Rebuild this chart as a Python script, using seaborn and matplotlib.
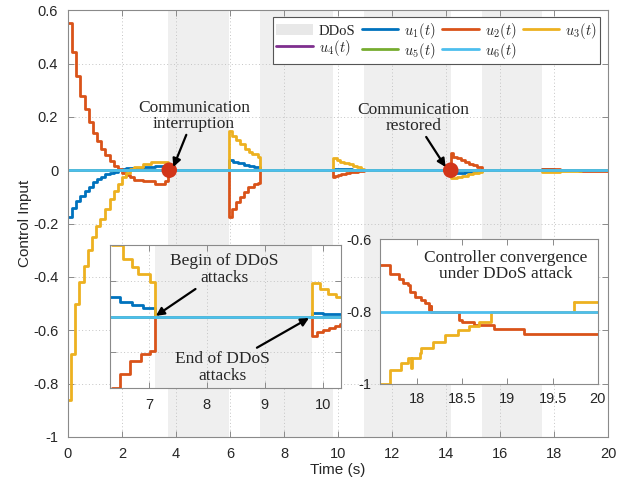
import matplotlib
matplotlib.use("Agg")
import matplotlib.pyplot as plt
import seaborn as sns
from matplotlib.patches import Patch
from matplotlib.lines import Line2D

sns.set_style("ticks")
plt.rcParams["font.family"] = ["Liberation Sans", "DejaVu Sans"]
plt.rcParams["mathtext.fontset"] = "cm"
plt.rcParams["axes.unicode_minus"] = False

# DDoS attack windows (s)
ddos_start = [3.72, 7.10, 10.95, 15.32]
ddos_end = [5.95, 9.81, 14.17, 17.55]

# u1(t): step instants and held values
u1_time = [0, 0.16, 0.31, 0.46, 0.62, 0.77, 0.92, 1.08, 1.23, 1.38, 1.54, 1.69, 1.85, 2.0, 2.15, 2.46, 2.77, 3.23, 3.72,
           5.95, 6.1, 6.3, 6.5, 6.7, 6.9, 7.10,
           9.81, 10.0, 10.2, 10.5, 10.8, 10.95,
           14.17, 14.4, 14.7, 15.0, 15.32,
           17.55, 18.0, 18.6, 19.2, 20.0]
u1_vals = [-0.177, -0.14, -0.115, -0.096, -0.077, -0.062, -0.046, -0.034, -0.024, -0.015, -0.009, -0.005, 0.0, 0.004, 0.007, 0.010, 0.012, 0.016, 0.0,
           0.037, 0.032, 0.027, 0.021, 0.016, 0.012, 0.0,
           0.005, 0.004, 0.003, 0.002, 0.001, 0.0,
           -0.012, -0.009, -0.006, -0.003, 0.0,
           0.003, 0.002, 0.001, 0.0, 0.0]

# u2(t)
u2_time = [0, 0.16, 0.31, 0.46, 0.62, 0.77, 0.92, 1.08, 1.23, 1.38, 1.54, 1.69, 1.85, 2.0, 2.15, 2.31, 2.46, 2.77, 3.23, 3.6, 3.72,
           5.95, 6.08, 6.22, 6.36, 6.5, 6.68, 6.87, 7.02, 7.10,
           9.81, 9.9, 10.0, 10.1, 10.2, 10.3, 10.45, 10.6, 10.75, 10.9, 10.95,
           14.17, 14.27, 14.4, 14.55, 14.7, 14.85, 15.0, 15.15, 15.32,
           17.55, 17.9, 18.2, 18.5, 18.9, 19.2, 20.0]
u2_vals = [0.552, 0.442, 0.353, 0.278, 0.228, 0.181, 0.141, 0.110, 0.079, 0.056, 0.035, 0.016, 0.004, -0.009, -0.017, -0.027, -0.036, -0.042, -0.052, -0.040, 0.0,
           -0.177, -0.146, -0.118, -0.100, -0.080, -0.0615, -0.052, -0.0475, 0.0,
           -0.027, -0.022, -0.019, -0.016, -0.013, -0.011, -0.008, -0.006, -0.004, -0.002, 0.0,
           0.063, 0.050, 0.044, 0.038, 0.031, 0.025, 0.019, 0.013, 0.0,
           0.006, 0.004, 0.002, 0.0, -0.002, -0.004, -0.004]

# u3(t)
u3_time = [0, 0.12, 0.27, 0.42, 0.58, 0.73, 0.88, 1.04, 1.2, 1.38, 1.54, 1.69, 1.85, 2.0, 2.15, 2.31, 2.46, 2.77, 3.08, 3.38, 3.6, 3.72,
           5.95, 6.08, 6.22, 6.36, 6.55, 6.7, 6.82, 7.02, 7.10,
           9.81, 9.95, 10.08, 10.22, 10.4, 10.55, 10.7, 10.85, 10.95,
           14.17, 14.4, 14.6, 14.8, 15.0, 15.2, 15.32,
           17.55, 17.9, 18.2, 18.5, 19.0, 20.0]
u3_vals = [-0.86, -0.69, -0.50, -0.42, -0.36, -0.30, -0.25, -0.21, -0.183, -0.146, -0.108, -0.077, -0.052, -0.027, -0.009, 0.004, 0.012, 0.022, 0.029, 0.032, 0.029, 0.0,
           0.147, 0.128, 0.113, 0.100, 0.081, 0.069, 0.060, 0.048, 0.0,
           0.047, 0.039, 0.032, 0.028, 0.022, 0.017, 0.011, 0.006, 0.0,
           -0.031, -0.026, -0.021, -0.016, -0.012, -0.008, 0.0,
           -0.008, -0.006, -0.004, -0.002, -0.001, 0.0]

# u4, u5, u6 stay at zero
flat_time = [0.0, 20.0]
u4_vals = [0.0, 0.0]
u5_vals = [0.0, 0.0]
u6_vals = [0.0, 0.0]

# communication events (interruption / restoration)
event_time = [3.75, 14.17]
event_vals = [0.0, 0.0]

# magnified view of the late transient
zoom_u2_time = [17.59, 17.70, 17.80, 17.85, 17.90, 17.92, 17.98, 18.04, 18.09, 18.13, 18.15, 18.16, 18.46, 18.50, 18.63, 18.85, 19.18, 20.0]
zoom_u2_vals = [-0.672, -0.695, -0.711, -0.722, -0.728, -0.745, -0.759, -0.768, -0.777, -0.795, -0.785, -0.800, -0.823, -0.829, -0.837, -0.848, -0.862, -0.862]
zoom_u3_time = [17.59, 17.70, 17.82, 17.90, 17.935, 17.94, 18.03, 18.045, 18.18, 18.31, 18.45, 18.58, 18.69, 18.82, 20.0]
zoom_u3_vals = [-1.0, -0.961, -0.943, -0.927, -0.955, -0.927, -0.915, -0.902, -0.883, -0.865, -0.851, -0.84, -0.828, -0.800, -0.800]
zoom_u3_late_time = [19.73, 20.0]
zoom_u3_late_vals = [-0.773, -0.773]
zoom_ref_time = [17.59, 20.0]
zoom_ref_vals = [-0.8, -0.8]

C1, C2, C3 = "#0072BD", "#D95319", "#EDB120"
C4, C5, C6 = "#7E2F8E", "#77AC30", "#4DBEEE"
BAND = "#efefef"
SPINE = "#8a8a8a"
TXT = "#262626"
SERIF = ["Liberation Serif", "DejaVu Serif"]
LW = 2.0


def style_axes(ax, pad=6):
    for s in ax.spines.values():
        s.set_visible(True)
        s.set_color(SPINE)
        s.set_linewidth(0.8)
    ax.tick_params(direction="in", top=True, right=True, color=SPINE,
                   labelcolor=TXT, labelsize=10.5, length=4, width=0.7, pad=pad)


def draw_series(ax):
    for s, e in zip(ddos_start, ddos_end):
        ax.axvspan(s, e, color=BAND, lw=0, zorder=0.2)
    kw = dict(ax=ax, drawstyle="steps-post", estimator=None, sort=False, lw=LW, legend=False)
    sns.lineplot(x=u1_time, y=u1_vals, color=C1, **kw)
    sns.lineplot(x=u2_time, y=u2_vals, color=C2, **kw)
    sns.lineplot(x=u3_time, y=u3_vals, color=C3, **kw)
    sns.lineplot(x=flat_time, y=u4_vals, color=C4, **kw)
    sns.lineplot(x=flat_time, y=u5_vals, color=C5, **kw)
    sns.lineplot(x=flat_time, y=u6_vals, color=C6, **kw)


fig = plt.figure(figsize=(6.29, 4.86), dpi=100)
ax = fig.add_axes([0.108, 0.101, 0.859, 0.878])
ax.set_axisbelow(True)
draw_series(ax)
sns.scatterplot(x=event_time, y=event_vals, ax=ax, color="#d2361a", s=125, edgecolor="none", zorder=5, legend=False)

ax.set_xlim(0, 20)
ax.set_ylim(-1, 0.6)
xt = list(range(0, 21, 2))
ax.set_xticks(xt)
ax.set_xticklabels([str(v) for v in xt])
yt = [-1, -0.8, -0.6, -0.4, -0.2, 0, 0.2, 0.4, 0.6]
ax.set_yticks(yt)
ax.set_yticklabels([f"{v:g}" for v in yt])
ax.grid(True, ls=(0, (1, 2.5)), color="#c4c4c4", lw=0.7)
style_axes(ax, pad=7)
ax.set_xlabel("Time (s)", fontsize=11, color=TXT, labelpad=2)
ax.set_ylabel("Control Input", fontsize=11, color=TXT, labelpad=1)

arrow = dict(arrowstyle="-|>", color="black", lw=1.6, mutation_scale=12, shrinkA=0, shrinkB=0)
ax.annotate("Communication\ninterruption", xy=(3.9, 0.012), xytext=(4.67, 0.205),
            ha="center", va="center", fontsize=12.5, family=SERIF, linespacing=1.0,
            arrowprops=arrow, zorder=6)
ax.annotate("Communication\nrestored", xy=(13.98, 0.012), xytext=(12.8, 0.197),
            ha="center", va="center", fontsize=12.5, family=SERIF, linespacing=1.0,
            arrowprops=arrow, zorder=6)

handles = [
    Patch(facecolor="#e8e8e8", edgecolor="none", label="DDoS"),
    Line2D([], [], color=C4, lw=LW, label="$u_4(t)$"),
    Line2D([], [], color=C1, lw=LW, label="$u_1(t)$"),
    Line2D([], [], color=C5, lw=LW, label="$u_5(t)$"),
    Line2D([], [], color=C2, lw=LW, label="$u_2(t)$"),
    Line2D([], [], color=C6, lw=LW, label="$u_6(t)$"),
    Line2D([], [], color=C3, lw=LW, label="$u_3(t)$"),
]
leg = ax.legend(handles=handles, ncol=4, loc="upper right", bbox_to_anchor=(0.985, 0.984),
                borderaxespad=0,
                prop={"family": SERIF, "size": 10.5}, frameon=True, fancybox=False,
                edgecolor="#555555", framealpha=1, handlelength=2.5, handleheight=0.8,
                handletextpad=0.4, columnspacing=0.45, labelspacing=0.0, borderpad=0.25)
leg.get_frame().set_linewidth(0.8)
leg.set_zorder(10)

# left inset: first and second attack windows
axl = fig.add_axes([0.175, 0.2016, 0.367, 0.294])
axl.set_axisbelow(True)
axl.set_facecolor("white")
draw_series(axl)
axl.set_xlim(6.33, 10.31)
axl.set_ylim(-0.1, 0.1)
axl.set_xticks([7, 8, 9, 10])
axl.set_xticklabels(["7", "8", "9", "10"])
axl.set_yticks([-0.1, -0.05, 0, 0.05, 0.1])
axl.set_yticklabels([])
axl.grid(True, ls=(0, (1, 2.5)), color="#c4c4c4", lw=0.7)
style_axes(axl, pad=7)
axl.set_xlabel("")
axl.set_ylabel("")
axl.annotate("Begin of DDoS\nattacks", xy=(7.12, 0.001), xytext=(8.3, 0.066),
             ha="center", va="center", fontsize=12.5, family=SERIF, linespacing=1.05,
             arrowprops=arrow, zorder=6)
axl.annotate("End of DDoS\nattacks", xy=(9.76, -0.002), xytext=(8.27, -0.071),
             ha="center", va="center", fontsize=12.5, family=SERIF, linespacing=1.05,
             arrowprops=arrow, zorder=6)

# right inset: convergence after the last attack
axr = fig.add_axes([0.604, 0.21, 0.3466, 0.298])
axr.set_facecolor("white")
kw = dict(ax=axr, drawstyle="steps-post", estimator=None, sort=False, lw=LW, legend=False)
sns.lineplot(x=zoom_u2_time, y=zoom_u2_vals, color=C2, **kw)
sns.lineplot(x=zoom_u3_time, y=zoom_u3_vals, color=C3, **kw)
sns.lineplot(x=zoom_u3_late_time, y=zoom_u3_late_vals, color=C3, **kw)
axr.plot([19.73, 19.73], [-0.8, -0.773], color=C3, lw=LW)
sns.lineplot(x=zoom_ref_time, y=zoom_ref_vals, color=C6, **kw)
axr.set_xlim(17.59, 20.0)
axr.set_ylim(-1, -0.6)
axr.set_xticks([18, 18.5, 19, 19.5, 20])
axr.set_xticklabels(["18", "18.5", "19", "19.5", "20"])
axr.set_yticks([-1, -0.8, -0.6])
axr.set_yticklabels(["-1", "-0.8", "-0.6"])
style_axes(axr, pad=6)
axr.set_xlabel("")
axr.set_ylabel("")
axr.text(18.98, -0.674, "Controller convergence\nunder DDoS attack", ha="center", va="center",
         fontsize=12.5, family=SERIF, linespacing=1.05)

fig.savefig("out.png", dpi=100)
